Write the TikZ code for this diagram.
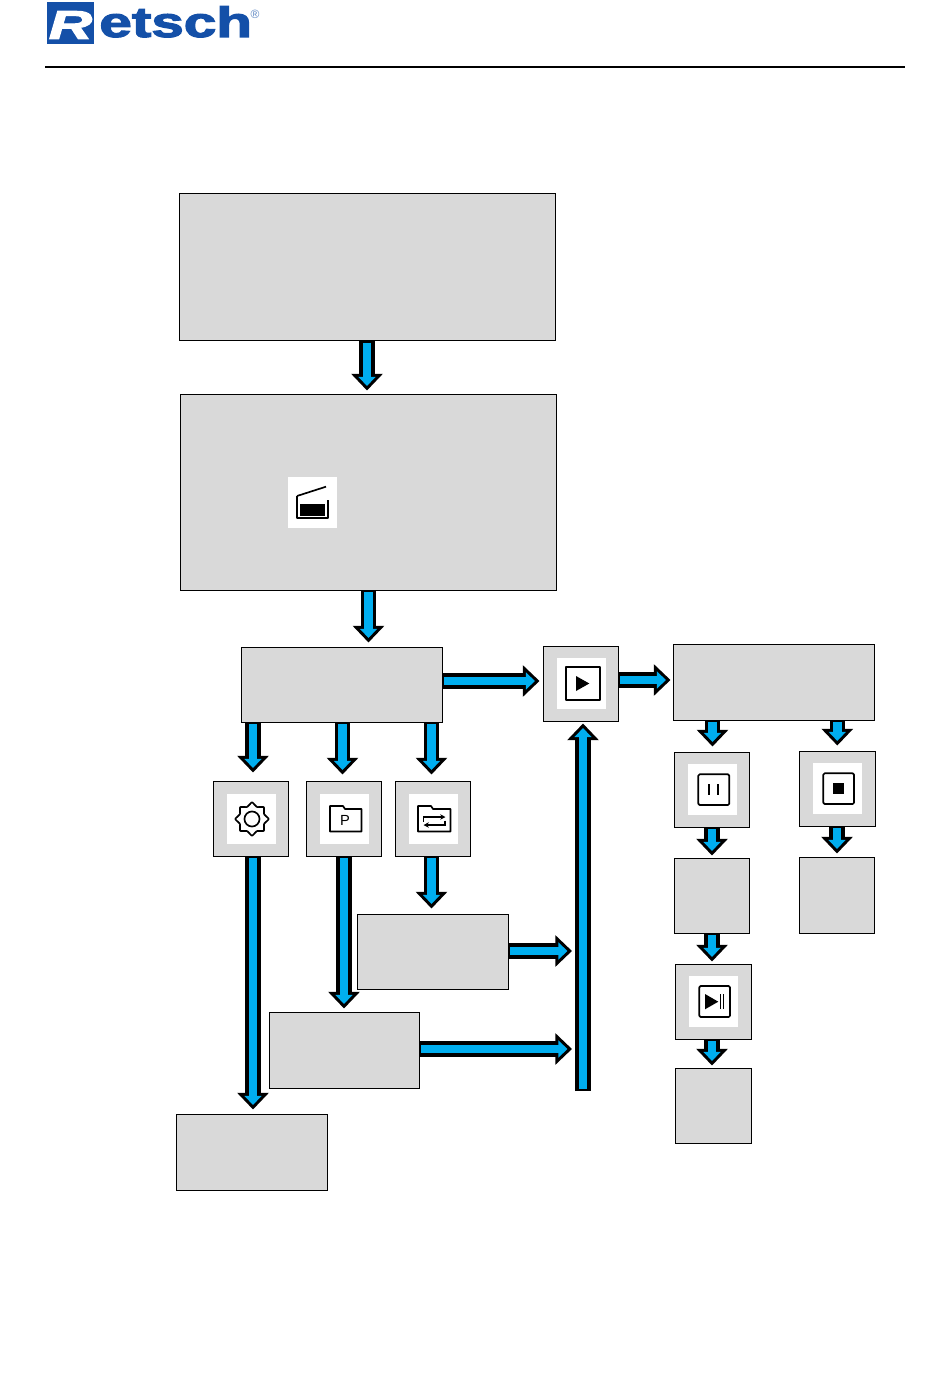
\documentclass[tikz,border=0pt]{standalone}
\usepackage{fontspec}
\setmainfont{Liberation Sans}
\newfontfamily\logofont[FakeBold=2.5]{Liberation Sans}
\usetikzlibrary{
  arrows.meta,
  shapes.geometric,
  positioning
}
\definecolor{rsGrey}{HTML}{D9D9D9}
\definecolor{rsFlow}{HTML}{00AEEF}
\definecolor{rsLogo}{HTML}{1450A8}
\tikzset{
  stepbox/.style={draw, fill=rsGrey, line width=0.75pt, inner sep=0pt, outer sep=0pt},
  iconbox/.style={stepbox, minimum width=56.25pt, minimum height=56.25pt},
  iconbg/.style={fill=white, inner sep=0pt, outer sep=0pt, minimum width=36.75pt, minimum height=38pt},
  iconline/.style={line width=1.25pt, line join=round},
  iconframe/.style={iconline, rounded corners=1pt},
  flow/.style={
    line width=11.5pt, -{Triangle[length=12.5pt, width=23pt]},
    postaction={draw=rsFlow, line width=6.5pt, -{Triangle[length=6.8pt, width=12.5pt]}, shorten >=3.4pt, shorten <=1.8pt}
  }
}
\begin{document}
\begin{tikzpicture}[x=0.75pt, y=-0.75pt]
  \useasboundingbox (0,0) rectangle (950,1387);
  % header
  \node[fill=rsLogo, minimum width=34.8pt, minimum height=31pt, inner sep=0pt] (logobox) at (70.5,23) {};
  \node[text=white, font=\logofont\itshape\bfseries\fontsize{30}{30}\selectfont, xscale=1.5, inner sep=0pt] (logor) at (70.5,25) {R};
  \node[text=rsLogo, font=\logofont\bfseries\fontsize{32}{32}\selectfont, xscale=1.37, inner sep=0pt, anchor=base west] (logotext) at (99,37) {etsch};
  \node[text=rsLogo!70, font=\fontsize{9}{9}\selectfont, inner sep=0pt] (logoreg) at (255,14) {®};
  \coordinate (ruleleft) at (45,67);
  \coordinate (ruleright) at (905,67);
  \draw[line width=1.5pt] (ruleleft) -- (ruleright);

  % main column
  \node[stepbox, minimum width=282pt, minimum height=110pt] (start) at (367,267) {};
  \node[stepbox, minimum width=282pt, minimum height=147pt] (lid) at (368,492) {};
  \node[stepbox, minimum width=150.75pt, minimum height=56.25pt] (menu) at (341.5,684.5) {};
  \node[iconbox] (play) at (580.5,683.5) {};
  \node[stepbox, minimum width=150.75pt, minimum height=57pt] (run) at (773.5,682) {};

  % left branches
  \node[iconbox] (gear) at (250.5,818.5) {};
  \node[iconbox] (prog) at (343.5,818.5) {};
  \node[iconbox] (swap) at (432.5,818.5) {};
  \node[stepbox, minimum width=113.25pt, minimum height=56.25pt] (swaplow) at (432.5,951.5) {};
  \node[stepbox, minimum width=112.5pt, minimum height=57pt] (proglow) at (344,1050) {};
  \node[stepbox, minimum width=113.25pt, minimum height=57pt] (gearlow) at (251.5,1152) {};

  % right branches
  \node[iconbox] (pause) at (711.5,789.5) {};
  \node[iconbox, minimum width=57pt] (stop) at (837.5,788.5) {};
  \node[iconbox] (pauselow) at (711.5,895.5) {};
  \node[iconbox, minimum height=57pt] (stoplow) at (836.5,895) {};
  \node[iconbox, minimum width=57pt] (resume) at (713,1001.5) {};
  \node[iconbox, minimum width=57pt] (resumelow) at (713,1105.5) {};

  % white icon fields
  \node[iconbg, minimum height=38.25pt] (lidbg) at (312.7,502.5) {};
  \node[iconbg] (gearbg) at (251.3,819) {};
  \node[iconbg] (progbg) at (344.3,819) {};
  \node[iconbg] (swapbg) at (433,819) {};
  \node[iconbg] (playbg) at (581.5,683.3) {};
  \node[iconbg] (pausebg) at (712.3,789.7) {};
  \node[iconbg] (stopbg) at (837.5,788.5) {};
  \node[iconbg] (resumebg) at (713.5,1001.3) {};

  % icons
  \draw[iconline] (297,496) -- (297,518.3) -- (328,518.3) -- (328,500.3);
  \draw[iconline] (297,496) -- (326,486.7);
  \fill (300,504.3) rectangle (325,515.7);
  \node[star, star points=8, star point ratio=1.32, draw, iconline, rounded corners=0.5pt, minimum size=25.5pt, inner sep=0pt] (gearstar) at (252,819) {};
  \node[circle, draw, iconline, minimum size=11.3pt, inner sep=0pt] (gearhub) at (252,819) {};
  \draw[iconline] (330,806) -- (343,806) -- (345,809) -- (361.5,809) -- (361.5,831.5) -- (330,831.5) -- cycle;
  \node[font=\fontsize{11}{11}\selectfont, inner sep=0pt] (progp) at (345,820) {P};
  \draw[iconline] (418,806) -- (431,806) -- (433,809) -- (450.5,809) -- (450.5,831.5) -- (418,831.5) -- cycle;
  \draw[line width=0.9pt, -{Stealth[length=4pt, width=4pt]}] (423.5,821.5) -- (423.5,817) -- (445.5,817);
  \draw[line width=0.9pt, -{Stealth[length=4pt, width=4pt]}] (445,820.5) -- (445,825) -- (423.5,825);
  \draw[iconline] (566,667.3) rectangle (599.7,700.3);
  \fill (576,676) -- (589.3,683.5) -- (576,691) -- cycle;
  \draw[iconframe] (698.3,774.3) rectangle (729.3,805);
  \draw[line width=1.7pt] (709,784.3) -- (709,795);
  \draw[line width=1.7pt] (718,784.3) -- (718,795);
  \draw[iconframe] (823.3,773.3) rectangle (854,804);
  \fill (833.3,783.3) rectangle (844.3,794.3);
  \draw[iconframe] (699.3,986) rectangle (730,1017);
  \fill (705,994) -- (718.3,1001.7) -- (705,1009.3) -- cycle;
  \draw[line width=0.8pt] (720.7,994) -- (720.7,1009.3);
  \draw[line width=0.8pt] (723.5,994) -- (723.5,1009.3);

  % downward flows
  \foreach \src/\dst/\dx/\gap in {start/lid/-1/3.5, lid/menu/27/4.5, menu/gear/2.5/8.5, menu/prog/-1/6.5, menu/swap/-1/6.5,
      gear/gearlow/1.5/4.5, prog/proglow/0/3.5, swap/swaplow/-1/5.5, run/pause/1/5.5, run/stop/-0.2/5.5,
      pause/pauselow/0.5/2.5, stop/stoplow/0.5/3.5, pauselow/resume/-1/2.5, resume/resumelow/-1/2.5}{
    \coordinate (tip) at ([shift={(\dx,-\gap)}]\dst.north);
    \draw[flow] (tip |- \src.south) -- (tip);
  }
  % sideways flows
  \foreach \src/\dst/\dy/\gap in {menu/play/-2.5/3.5, play/run/-2/2.5}{
    \coordinate (tip) at ([shift={(-\gap,\dy)}]\dst.west);
    \draw[flow] (tip -| \src.east) -- (tip);
  }
  % collector towards play
  \coordinate (feedswap) at (572,951);
  \coordinate (feedprog) at (572,1049);
  \coordinate (busfoot) at (583,1091);
  \coordinate (bustip) at ([shift={(2.5,2.5)}]play.south);
  \draw[flow] (feedswap -| swaplow.east) -- (feedswap);
  \draw[flow] (feedprog -| proglow.east) -- (feedprog);
  \draw[flow] (busfoot) -- (bustip);
\end{tikzpicture}
\end{document}
